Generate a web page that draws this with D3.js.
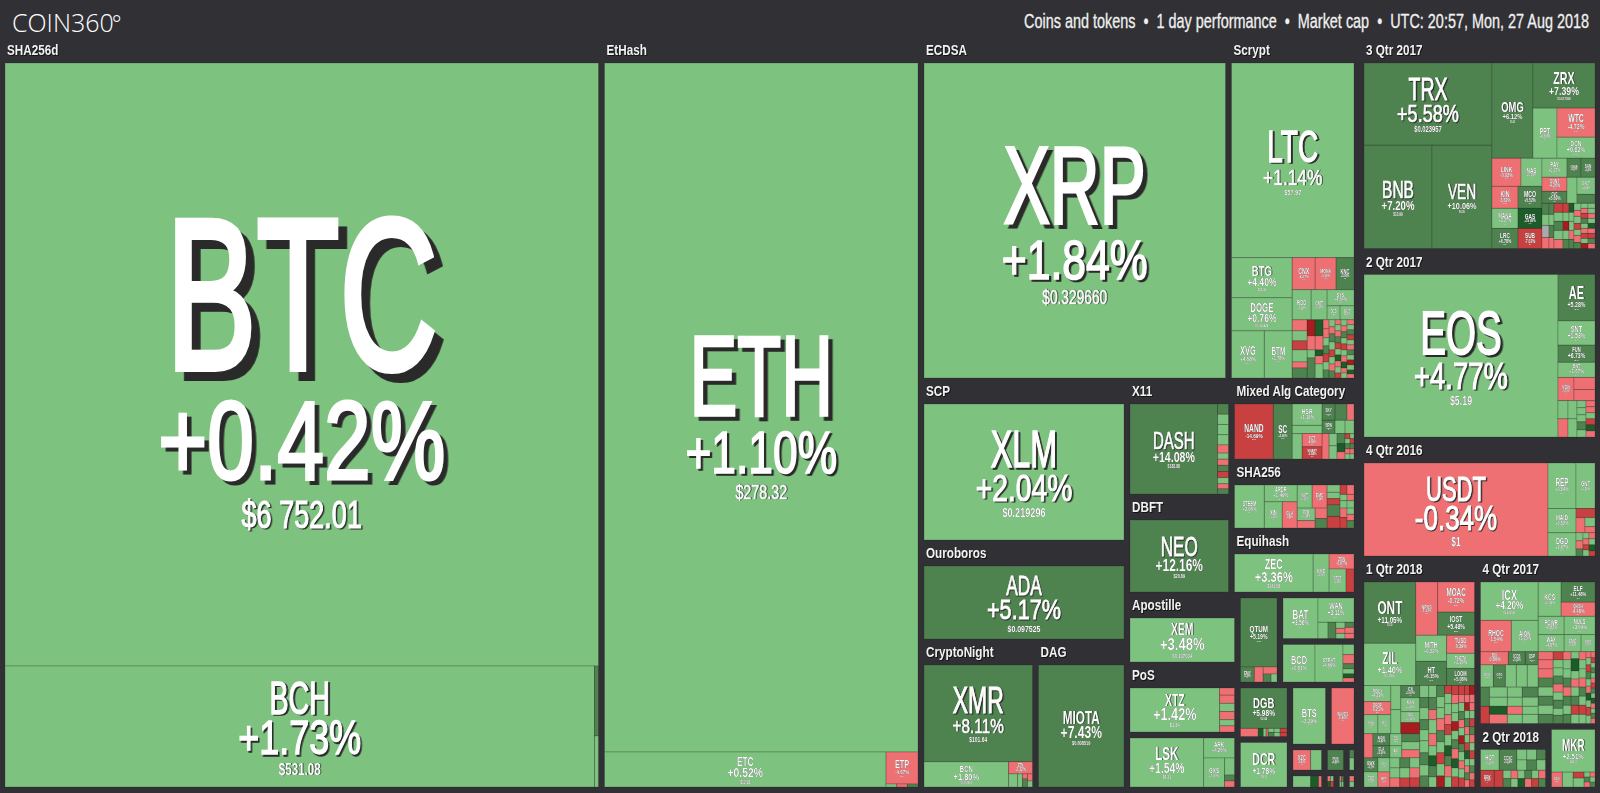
<!DOCTYPE html>
<html><head><meta charset="utf-8">
<script src="https://cdn.jsdelivr.net/npm/d3@7"></script>
<style>html,body{margin:0;padding:0;background:#313135;overflow:hidden}svg{display:block}</style>
</head><body>
<svg id="chart" width="1600" height="793"></svg>
<script>
// a run of unnamed small coins: cross size, then (size, 1-day %) pairs
const strip = (w, ...hp) => { const o = []; for (let i = 0; i < hp.length; i += 2) o.push([0, w * hp[i], hp[i + 1]]); return o; };

const titleLeft = "COIN360";
const titleDegree = "°";
const titleRight = "Coins and tokens  •  1 day performance  •  Market cap  •  UTC: 20:57, Mon, 27 Aug 2018";

const pctThresholds = [-15, -5, 0, 1e-9, 5, 15];
const pctColors = ["#a81c1f", "#c8403f", "#ee7073", "#aaaaaa", "#7dc27f", "#4e834f", "#1c5c28"];

const groupKeys = ["SHA256d","EtHash","ECDSA","Scrypt","SCP","Ouroboros","CryptoNight","DAG","X11","DBFT","Mixed Alg Category","SHA256","Equihash","Apostille","PoS","_LSK","_QTUM","_BAT","_BCD","_DGB","_DCR","_BTS","_WAVES","_XZC","_PIVX","_c3","_b1","_b2","_b3","_b4","_gutter","3 Qtr 2017","2 Qtr 2017","4 Qtr 2016","1 Qtr 2018","4 Qtr 2017","2 Qtr 2018","_MKR"];
const groupSizes = [449625,239625,104857.5,43818.5,33372,20394,16946,13542,12122,10241,10165.5,8659.5,8032,7735,7735,6077.5,3825,3580.5,3349.5,2861.25,2651.25,2387,1767,897,572,273,586.5,204,170,178.5,3000,50125.5,44674.5,28203,26911.5,20183.75,4508.5,3143.25];

const sha256d = [[ ["BTC",358182,0.42,"$6 752.01"], [ ["BCH",71390,1.73,"$531.08"], strip(4, 70,6, 51,2) ] ]];
const ethash = [[ ["ETH",216346,1.10,"$278.32"], [ ["ETC",9870,0.52,"$12.93"], [ ["ETP",1024,-4.67,"$2.10"], [[0,32,2],[0,32,-3],[0,32,6]] ] ] ]];
const ecdsa = [ ["XRP",95000,1.84,"$0.329660"] ];
const scrypt = [[ ["LTC",23862,1.14,"$57.97"], [
  [ ["BTG",2440,4.40,"$25.08"], ["DOGE",2013,0.76,"$0.002424"], [ ["XVG",1551,4.68,"$0.0143"], ["BTM",1316,1.78,"$0.30"] ] ],
  [ [ ["CNX",736,-4.27,"$4.10"], ["MONA",672,-0.59,"$1.62"], ["KNC",576,5.80,"$0.72"] ],
    [ ["RDD",570,1.68,"$0.003"], ["CMT",480,0.85,"$0.12"], [ ["SYS",432,4.54,"$0.12"], [ ["DCD",182,1.2,"$0.1"], ["BLZ",196,4.2,"$0.2"] ] ] ],
    [ strip(15, 11,-2, 10,2, 9,-8, 12,2, 6,-2, 10,6), strip(8, 16,-16, 14,-2, 8,2, 20,6), strip(8, 16,18, 14,-2, 6,18, 8,-2, 14,2),
      strip(6, 9,-2, 9,-2, 8,2, 8,7, 8,-8, 8,2, 8,7), strip(6, 7,2, 7,-3, 8,7, 8,2, 7,-9, 7,2, 7,-3, 7,7),
      strip(6, 5,-2, 6,2, 6,-3, 6,7, 6,-12, 6,2, 6,18, 6,-3, 6,2, 5,-9), strip(6, 6,2, 6,-3, 6,8, 6,2, 6,-12, 6,2, 6,-4, 6,18, 5,-2, 5,2),
      strip(7, 5,-2, 5,2, 5,7, 5,-9, 5,2, 5,-3, 5,7, 5,2, 5,-16, 5,2, 4,18, 4,-3) ] ]
] ]];
const scp = [ ["XLM",26800,2.04,"$0.219296"] ];
const ouroboros = [ ["ADA",14200,5.17,"$0.097525"] ];
const cryptoNight = [[ ["XMR",10464,8.11,"$101.64"], [ ["BCN",2125,1.80,"$0.001800"], [ ["ETN",288,-2.32,"$0.01"], [ strip(9,13,2), strip(5,13,2), strip(5,5,-2,8,7), strip(5,7,-3,6,2) ] ] ] ]];
const dag = [ ["MIOTA",10400,7.43,"$0.608519"] ];
const x11 = [ ["DASH",7744,14.08,"$183.88"], strip(11, 10,6, 10,2, 10,2, 10,2, 8,-3, 6,2, 6,-3, 6,6, 6,-9, 6,2, 5,-3, 5,6) ];
const dbft = [ ["NEO",7000,12.16,"$20.89"] ];
const mixedAlg = [ ["NAND",2106,-14.69,"$2.10"], ["SC",1026,5.80,"$0.006"],
  [ ["HSR",630,1.18,"$2.10"], [0,240,3], [ [0,250,2], [ ["FCT",260,-4.96,"$9.10"], ["SMART",240,-5.84,"$0.03"] ] ] ],
  [ [ ["SKY",208,6.71,"$8.10"], [0,192,6], [0,112,-3] ], [ ["BRN",169,6.20,"$0.5"], [0,130,2], [0,117,2] ],
    [ strip(7,25,-3), strip(8,12,2,13,2), strip(8,10,6,8,18,7,-3), strip(5,5,-9,5,2,5,7,5,-3,5,2), strip(4,5,2,5,-12,5,7,5,-3,5,2) ] ] ];
const sha256 = [ ["STEEM",1230,3.06,"$0.90"],
  [ ["ARDR",528,1.49,"$0.14"], [ ["XIN",450,1.22,"$0.1"], ["GLA",375,-4.80,"$0.1"] ] ],
  [ [ ["NXT",330,1.02,"$0.05"], ["EMC",330,-1.04,"$0.7"] ], [ [ ["PZM",216,1.38,"$0.2"], [0,126,-2] ], [ [0,120,-3], [0,108,6] ] ] ],
  strip(13, 7,2, 6,2, 6,-10, 11,6, 11,-12), strip(7, 9,-12, 6,2, 7,2, 9,-3, 10,-9), strip(7, 9,-2, 6,-3, 7,2, 6,2, 6,-5, 7,8) ];
const equihash = [ ["ZEC",3002,3.36,"$141.58"], ["KMD",608,4.80,"$1.10"], [ ["ZEN",375,-0.67,"$14.10"], [ ["BTCP",391,3.80,"$2.10"], [0,184,-6] ] ] ];
const apostille = [ ["XEM",4500,3.48,"$0.107034"] ];
const pos = [ ["XTZ",3870,1.42,"$1.34"], strip(15, 7,-2, 8,-2, 8,2, 8,-3, 6,2, 6,-4) ];
const lskGroup = [ ["LSK",3626,1.54,"$4.31"], [ ["ARK",620,4.26,"$0.7"], [ ["GXS",609,1.80,"$1.1"], strip(10, 17,2, 6,6, 6,-3) ] ] ];
const qtumGroup = [[ ["QTUM",2553,5.19,"$4.21"], [ ["EMY",210,5.40,"$0.2"], [0,135,-2], [ [0,98,-2], [ [0,64,6], [0,48,2] ] ] ] ]];
const batGroup = [ ["BAT",1400,3.56,"$0.19"], [ ["WAN",864,3.11,"$1.40"], [ [0,160,2], [0,128,7], strip(9,6,2,5,-3,5,2), strip(9,5,7,6,-5,5,-2) ] ] ];
const bcdGroup = [ ["BCD",1184,0.51,"$1.20"], ["STRAT",1036,4.66,"$1.10"], strip(11, 10,2, 9,-3, 5,7, 5,2, 4,18, 4,-3) ];
const dgbGroup = [[ ["DGB",1880,5.98,"$0.024"], [ [0,144,-2], [0,40,18], [0,24,2], [0,16,-3], strip(6,4,2,4,7), strip(6,4,2,4,2), strip(7,4,-6,4,-12) ] ]];
const dcrGroup = [ ["DCR",2000,1.78,"$38.91"] ];
const btsGroup = [ ["BTS",1800,3.29,"$0.10"] ];
const wavesGroup = [ ["WAVES",1300,-0.86,"$2.47"] ];
const xzcGroup = [ ["XZC",360,-0.92,"$14.10"], [0,220,2] ];
const pivxGroup = [ ["PIVX",340,6.90,"$1.10"] ];
const c3Group = [ strip(5, 8,7, 12,2) ];
const b1Group = [ [0,180,2], [0,80,18], [0,30,-2] ];
const b2Group = [ strip(3,5,-3,5,18), strip(3,5,2,5,-6) ];
const b3Group = [ strip(2,5,-3,5,2), strip(2,5,7,5,2) ];
const b4Group = [ strip(5, 5,-2, 5,2) ];
const gutter = [ [0,1,null] ];
const q3y2017 = [
  [ ["TRX",10496,5.58,"$0.023957"], [ ["BNB",7004,7.20,"$10.99"], ["VEN",6180,10.06,"$0.95"] ] ],
  [ [ ["OMG",3895,6.12,"$3.64"], [ ["ZRX",2790,7.39,"$0.617058"], [ ["PPT",1200,0.60,"$3.20"], [ ["WTC",1102,-4.72,"$4.10"], ["DCN",798,0.62,"$0.001"] ] ] ] ],
    [ [ [ ["LINK",812,-0.02,"$0.40"], ["NAS",588,0.39,"$3.10"] ],
        [ [ ["KIN",572,-3.62,"$0.0001"], ["MANA",520,3.27,"$0.06"], ["LRC",520,6.78,"$0.09"] ], [ ["MCO",528,5.52,"$5.10"], ["GAS",480,19.89,"$4.90"], ["SUB",480,-7.02,"$0.1"] ] ] ],
      [ [ [ ["PAY",475,0.27,"$0.3"], ["ODNT",350,-4.26,"$0.1"], ["CVC",300,5.69,"$0.2"] ],
          [ [ ["CHSB",266,5.60,"$0.1"], ["SAN",266,5.40,"$0.7"] ], [ [0,260,3], [ ["SALT",306,4.80,"$0.5"], [0,162,6] ] ] ] ],
        [ strip(7,11,7,11,2,12,0,11,-4), strip(5,11,7,11,2,12,5.5,11,-4), strip(9,9,-10,9,2,9,7,9,2,9,-3), strip(6,9,-10,9,2,9,-16,9,2,9,7),
          strip(5,9,18,9,2,9,2,9,-3,9,7), strip(7,7,2,6,-3,7,2,6,-9,6,2,7,-3,6,7), strip(7,5,2,5,-3,5,-9,5,7,5,2,5,-3,5,-12,5,2,5,-16),
          strip(7,5,2,5,2,5,-3,5,2,5,18,5,-3,5,-12,5,7,5,-3) ] ] ] ] ];
const q2y2017 = [ ["EOS",31234,4.77,"$5.19"],
  [ ["AE",1702,5.28,"$1.10"], ["SNT",888,1.53,"$0.04"], ["FUN",629,6.73,"$0.01"], ["BNT",555,1.67,"$1.40"],
    [ ["VGN",368,-3.10,"$0.1"], [ [0,252,-3], [0,231,-2] ] ],
    [ strip(10,18,2,18,-2), strip(9,18,2,18,2), strip(9,7,2,7,2,7,2,8,7,7,2), strip(9,6,-5,6,-3,6,2,6,-7,6,18,6,-3) ] ] ];
const q4y2016 = [ ["USDT",16928,-0.34,"$1"],
  [ ["REP",1260,0.54,"$19.10"], ["MAID",672,0.52,"$0.2"], ["DGD",644,2.67,"$30.10"] ],
  [ ["GNT",855,0.56,"$0.14"], [0,171,-9], [ [0,135,-3], [ [0,90,2], [0,60,-2] ] ],
    [ strip(7,8,2,8,-3,7,7), strip(6,6,2,6,-3,5,-9,6,2), strip(6,6,-3,6,2,6,18,5,-12) ] ] ];
const q1y2018 = [[
  [ [ ["ONT",3172,11.05,"$2.30"], ["ZIL",2184,1.40,"$0.038000"] ],
    [ [ ["NPXS",1166,-1.52,"$0.001"], [ ["MOAC",1110,-0.72,"$1.80"], ["IOST",851,5.48,"$0.02"] ] ],
      [ [ ["MITH",806,0.22,"$0.4"], ["HT",744,6.15,"$2.30"] ], [ ["TUSD",504,-0.39,"$1"], ["THETA",420,2.25,"$0.1"], ["LOOM",476,5.08,"$0.1"] ] ] ] ],
  [ [ [ [ ["POLY",432,4.22,"$0.2"], ["DROP",351,-0.21,"$0.01"], [ ["NOAH",266,1.20,"$0.01"], ["WICC",247,1.60,"$0.3"] ] ],
        strip(10,24,2,24,2),
        [ ["ICN",228,5.60,"$0.3"], ["KAN",266,1.26,"$0.01"], ["DDD",209,1.02,"$0.1"], [0,209,-16] ] ],
      [ [0,216,-3], [ ["AUDIO",204,5.80,"$0.2"], ["ELA",204,5.60,"$8"] ], [ ["CS",144,1.80,"$0.3"], ["AID",144,1.90,"$0.3"] ], strip(18,8,6,8,2,8,-2) ],
      [ [ ["BWX",196,5.70,"$0.1"], ["CDO",210,1.90,"$0.1"] ], [ ["SOC",168,1.90,"$0.1"], ["BFT",180,-1.90,"$0.1"] ],
        strip(10,10,2,10,2,9,-4), strip(10,10,6,10,2,9,-10), strip(10,10,2,10,-3,9,-10) ] ],
    strip(9,12,2,10,7,12,2,10,7,11,2,12,2,12,7,11,2,11,7),
    strip(8,12,2,12,7,10,-3,14,2,12,-4,10,2,10,18,11,7,10,2),
    strip(8,11,7,11,2,11,2,12,-3,11,7,11,2,11,-9,12,2,11,-16),
    strip(7,8,-9,10,2,11,2,10,-3,10,-12,11,2,10,18,10,7,11,-3,10,2),
    strip(7,9,-9,9,-3,9,2,9,2,9,-16,9,2,9,7,10,-3,9,18,9,2,10,-9),
    strip(6,9,-12,8,-3,9,2,8,7,8,-3,8,2,8,-16,8,7,9,2,8,-3,9,2,9,-12),
    strip(5,9,-9,8,-3,8,-16,8,2,8,7,8,-3,8,2,8,-12,8,18,7,2,7,-3,7,7,7,-4),
    strip(5,9,-16,8,-3,8,-3,8,2,8,-12,8,7,8,-3,8,2,8,-9,7,2,7,7,7,-3,7,-12) ]
]];
const q4y2017 = [[
  [ [ ["ICX",2204,4.20,"$0.600000"], [ ["RHOC",961,-1.54,"$1.10"], ["AION",837,3.10,"$0.7"] ] ],
    [ [ ["KCS",782,0.39,"$1.10"], [ ["ELF",680,11.48,"$0.3"], ["QASH",476,-4.48,"$0.2"] ] ],
      [ ["POWR",468,0.82,"$0.2"], ["NULS",558,3.64,"$1.60"] ], [ ["WAX",442,4.87,"$0.1"], ["ENG",289,1.92,"$1.0"], ["DENT",238,1.85,"$0.01"] ] ] ],
  [ [ [ ["BIX",364,-0.86,"$0.6"], ["ICOS",221,5.42,"$9"], ["QSP",169,6.10,"$0.1"] ],
      [ ["DRGN",286,1.86,"$0.2"], ["GTO",264,6.04,"$0.1"], [0,242,2], [0,242,2], [0,242,2] ],
      [ strip(9,19,7,17,-10), strip(18,10,2,9,2,8,18,9,-2), strip(15,10,2,9,2,8,-3,9,2), strip(16,10,7,9,2,8,2,9,2) ] ],
    strip(15,8,-3,9,-3,9,-3,9,7,9,2,9,7,9,2,9,7),
    strip(10,8,-9,8,2,8,2,8,7,8,-3,8,2,8,7,7,2,8,7),
    strip(8,8,-3,9,2,9,2,9,7,9,-3,9,7,9,2,9,7),
    strip(8,7,2,12,18,8,2,8,-3,9,2,9,7,9,-9,9,2),
    strip(7,8,-3,9,2,9,2,9,-4,9,7,9,2,9,-9,9,2),
    strip(5,6,-3,7,2,7,-9,7,7,7,2,7,-3,7,18,7,2,8,-12,8,2),
    strip(4,6,-3,5,-12,5,2,5,7,5,2,5,-3,5,-9,5,7,5,2,5,18,5,-3,5,2,5,7,5,-3) ]
]];
const q2y2018 = [[
  [ ["HOT",380,3.20,"$0.001"], ["CCXC",360,5.60,"$0.1"], strip(10,10,2,10,2), strip(10,10,2,10,7), strip(9,10,7,10,2) ],
  [ ["BBK",224,-9.10,"$0.1"], [0,144,-12], strip(8,8,2,8,7), strip(7,8,-3,8,2), strip(7,8,2,8,18), strip(7,8,7,8,-3), strip(7,8,2,8,-12), strip(7,8,-3,8,7) ]
]];
const mkrGroup = [[ ["MKR",1892,2.51,"$420.10"], [ ["EDG",165,-2.90,"$0.1"], strip(11,15,2), strip(11,6,-9,9,2), strip(6,5,2,5,7,5,-3), strip(5,5,-3,5,2,5,7) ] ]];

const groupCoins = [sha256d,ethash,ecdsa,scrypt,scp,ouroboros,cryptoNight,dag,x11,dbft,mixedAlg,sha256,equihash,apostille,pos,lskGroup,qtumGroup,batGroup,bcdGroup,dgbGroup,dcrGroup,btsGroup,wavesGroup,xzcGroup,pivxGroup,c3Group,b1Group,b2Group,b3Group,b4Group,gutter,q3y2017,q2y2017,q4y2016,q1y2018,q4y2017,q2y2018,mkrGroup];

const groupNesting = ["SHA256d","EtHash",
  [ ["ECDSA","Scrypt"],
    [ ["SCP","Ouroboros",["CryptoNight","DAG"]],
      [ [ ["X11","DBFT"], ["Mixed Alg Category","SHA256","Equihash"] ],
        [ ["Apostille","PoS","_LSK"],
          [ ["_QTUM",["_BAT","_BCD"]],
            [ ["_DGB","_DCR"], [ ["_BTS","_WAVES"], ["_XZC","_PIVX","_c3"], ["_b1","_b2","_b3","_b4"] ] ] ] ] ] ] ],
  "_gutter",
  ["3 Qtr 2017","2 Qtr 2017","4 Qtr 2016",["1 Qtr 2018",["4 Qtr 2017",["2 Qtr 2018","_MKR"]]]]];

// ---- build the hierarchy -------------------------------------------------
const isCoin = x => !Array.isArray(x[0]);
const sumCoins = list => d3.sum(list, x => isCoin(x) ? x[1] : sumCoins(x));
const buildCoins = (list, dice, k) => ({ dice, children: list.map(x => isCoin(x)
  ? { name: x[0] || "", size: x[1] * k, pct: x[2], price: x[3] }
  : buildCoins(x, !dice, k)) });
const buildGroup = key => {
  const i = groupKeys.indexOf(key), coins = groupCoins[i];
  const n = buildCoins(coins, true, groupSizes[i] / sumCoins(coins));
  n.group = key; return n;
};
const buildNest = (list, dice) => ({ dice, children: list.map(x => typeof x === "string" ? buildGroup(x) : buildNest(x, !dice)) });

const root = d3.hierarchy(buildNest(groupNesting, true)).sum(d => d.size || 0);
const hasLabel = d => d.data.group && d.data.group[0] !== "_";
d3.treemap()
  .size([1600, 790])
  .tile((n, x0, y0, x1, y1) => (n.data.dice ? d3.treemapDice : d3.treemapSlice)(n, x0, y0, x1, y1))
  .paddingTop(d => d.depth === 0 ? 40 : d.data.group ? (hasLabel(d) ? 23 : 3) : 0)
  .paddingLeft(d => d.depth === 0 ? 2 : d.data.group ? 3 : 0)
  .paddingRight(d => d.depth === 0 ? 2 : d.data.group ? 3 : 0)
  .paddingBottom(d => d.data.group ? 3 : 0)(root);

// ---- draw ----------------------------------------------------------------
const svg = d3.select("#chart");
const color = d3.scaleThreshold().domain(pctThresholds).range(pctColors);
const leaves = root.leaves().filter(d => d.data.pct !== null);
const FONT = "'Liberation Sans',Arial,sans-serif";

svg.append("g").selectAll("rect").data(leaves).join("rect")
  .attr("x", d => d.x0).attr("y", d => d.y0)
  .attr("width", d => d.x1 - d.x0).attr("height", d => d.y1 - d.y0)
  .attr("fill", d => color(d.data.pct))
  .attr("stroke", "rgba(30,30,30,.22)").attr("stroke-width", 1);

const CAP = 0.716;
const labels = leaves.filter(d => d.data.name).flatMap(d => {
  const w = d.x1 - d.x0, h = d.y1 - d.y0, cx = (d.x0 + d.x1) / 2, cy = (d.y0 + d.y1) / 2;
  const nm = d.data.name, pct = (d.data.pct > 0 ? "+" : "") + d.data.pct.toFixed(2) + "%";
  const capN = Math.min(0.78 * w / nm.length, 0.27 * h);
  const capP = Math.min(0.8 * w / pct.length, 0.28 * h);
  const capV = 0.35 * capP, g1 = 0.2 * capN, g2 = 0.27 * capP;
  const total = capN + g1 + capP + g2 + capV;
  const top = cy - total / 2 + 0.012 * h;
  return [
    { t: nm, x: cx, y: top + capN, cap: capN, sx: 0.63 },
    { t: pct, x: cx, y: top + capN + g1 + capP, cap: capP, sx: 0.76 },
    { t: d.data.price, x: cx, y: top + total, cap: capV, sx: 0.7 }
  ];
});
svg.append("g").selectAll("text").data(labels).join("text")
  .attr("transform", d => `translate(${d.x},${d.y}) scale(${d.sx},1)`)
  .attr("text-anchor", "middle").attr("font-family", FONT)
  .attr("font-weight", d => d.cap < 14 ? 700 : 400)
  .attr("font-size", d => d.cap / CAP).attr("fill", "#fff")
  .attr("stroke", "#fff").attr("stroke-width", d => d.cap < 14 ? 0 : d.cap * 0.04)
  .style("filter", d => { const s = Math.max(0.4, d.cap * 0.06); return `drop-shadow(${s / d.sx}px ${s}px 0 #2a2a2a)`; })
  .text(d => d.t);

const groups = root.descendants().filter(hasLabel);
svg.append("g").selectAll("text").data(groups).join("text")
  .attr("transform", d => `translate(${d.x0 + 5},${d.y0 + 15}) scale(0.78,1)`)
  .attr("font-family", FONT).attr("font-weight", 700).attr("font-size", 15).attr("fill", "#f2f2f2")
  .style("filter", "drop-shadow(1px 1px 0 #111)")
  .text(d => d.data.group);

const logo = svg.append("text").attr("x", 12).attr("y", 32).attr("font-family", "'Open Sans',sans-serif")
  .attr("font-weight", 300).attr("font-size", 25).attr("fill", "#fff").text(titleLeft);
logo.append("tspan").attr("dx", -2).attr("font-size", 23).text(titleDegree);
svg.append("text").attr("transform", "translate(1589,28) scale(0.74,1)").attr("text-anchor", "end")
  .attr("font-family", FONT).attr("font-size", 19.5).attr("fill", "#f0f0f0")
  .attr("stroke", "#f0f0f0").attr("stroke-width", 0.3)
  .style("white-space", "pre").text(titleRight);
</script>
</body></html>
